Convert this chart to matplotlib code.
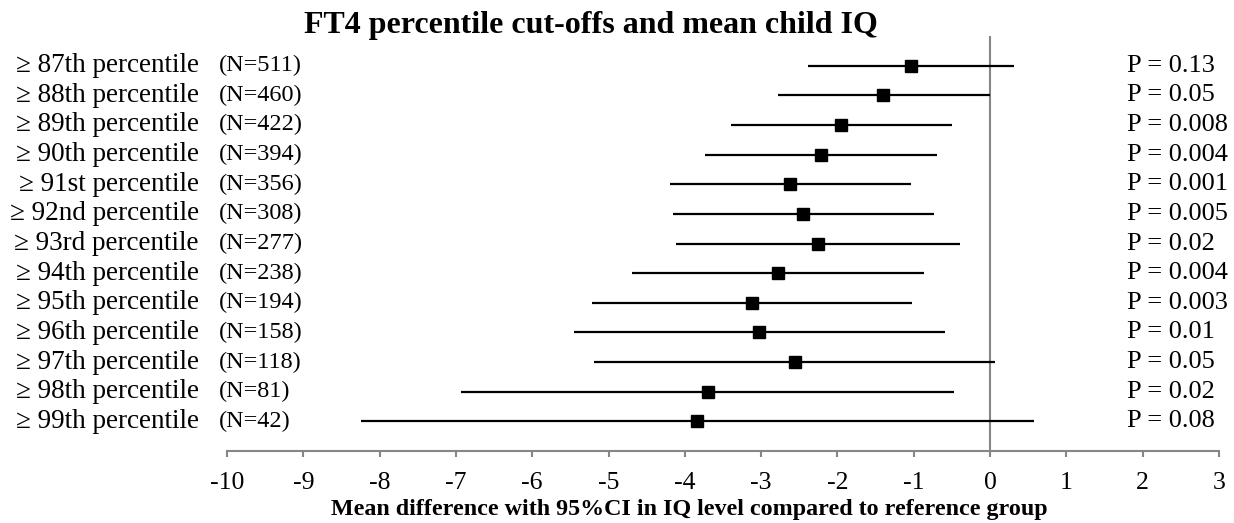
import matplotlib.pyplot as plt
from matplotlib.transforms import blended_transform_factory

cutoffs = ['≥ 87th percentile', '≥ 88th percentile', '≥ 89th percentile', '≥ 90th percentile',
           '≥ 91st percentile', '≥ 92nd percentile', '≥ 93rd percentile', '≥ 94th percentile',
           '≥ 95th percentile', '≥ 96th percentile', '≥ 97th percentile', '≥ 98th percentile',
           '≥ 99th percentile']
n_labels = ['(N=511)', '(N=460)', '(N=422)', '(N=394)', '(N=356)', '(N=308)', '(N=277)',
            '(N=238)', '(N=194)', '(N=158)', '(N=118)', '(N=81)', '(N=42)']
p_labels = ['P = 0.13', 'P = 0.05', 'P = 0.008', 'P = 0.004', 'P = 0.001', 'P = 0.005', 'P = 0.02',
            'P = 0.004', 'P = 0.003', 'P = 0.01', 'P = 0.05', 'P = 0.02', 'P = 0.08']
mean_diff = [-1.04, -1.40, -1.96, -2.21, -2.62, -2.45, -2.25, -2.78, -3.12, -3.03, -2.56, -3.70, -3.84]
ci_low = [-2.39, -2.78, -3.40, -3.74, -4.19, -4.15, -4.11, -4.69, -5.22, -5.45, -5.19, -6.94, -8.25]
ci_high = [0.32, 0.00, -0.50, -0.70, -1.03, -0.74, -0.39, -0.86, -1.02, -0.59, 0.06, -0.47, 0.57]

plt.rcParams['font.family'] = ['Liberation Serif', 'DejaVu Serif']
plt.rcParams['axes.unicode_minus'] = False

fig = plt.figure(figsize=(12.34, 5.23), dpi=100)
ax = fig.add_axes([227 / 1234, 1 - 451 / 523, (1219 - 227) / 1234, (451 - 36) / 523])

ypos = list(range(len(cutoffs), 0, -1))
grey = '#868686'

ax.axvline(0, color=grey, lw=1.5, zorder=1)
ax.hlines(ypos, ci_low, ci_high, color='black', lw=1.6, zorder=2)
ax.plot(mean_diff, ypos, 's', color='black', markersize=8, zorder=3)

ax.set_xlim(-10, 3)
ax.set_ylim(0, 14)
ax.set_xticks(range(-10, 4))
ax.set_yticks([])
for s in ['top', 'right', 'left']:
    ax.spines[s].set_visible(False)
ax.spines['bottom'].set_color(grey)
ax.spines['bottom'].set_linewidth(1.5)
ax.tick_params(axis='x', colors=grey, length=4, width=1.5, pad=11, labelsize=18.5, labelcolor='black')

trans = blended_transform_factory(fig.transFigure, ax.transData)
for y, lab, n, p in zip(ypos, cutoffs, n_labels, p_labels):
    ax.text(199 / 1234, y, lab, transform=trans, ha='right', va='center', fontsize=19.5)
    ax.text(219 / 1234, y, n, transform=trans, ha='left', va='center', fontsize=17.5)
    ax.text(1127 / 1234, y, p, transform=trans, ha='left', va='center', fontsize=19)

fig.text(591 / 1234, 1 - 33 / 523, 'FT4 percentile cut-offs and mean child IQ',
         ha='center', va='baseline', fontsize=23, fontweight='bold')
fig.text(689 / 1234, 1 - 515 / 523,
         'Mean difference with 95%CI in IQ level compared to reference group',
         ha='center', va='baseline', fontsize=17.3, fontweight='bold')

fig.savefig('out.png', dpi=100)
